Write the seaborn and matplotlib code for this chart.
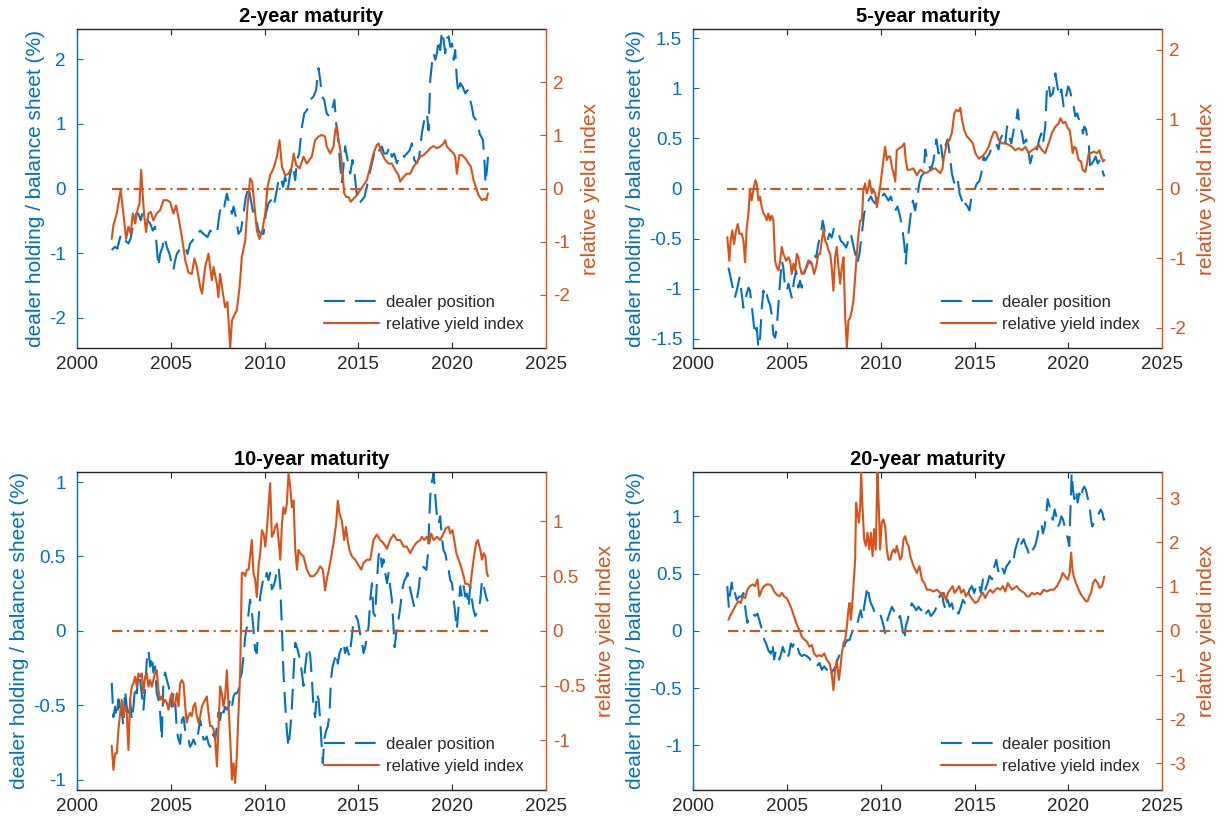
import pandas as pd
import seaborn as sns
import matplotlib
matplotlib.use("Agg")
import matplotlib.pyplot as plt
from matplotlib.ticker import FormatStrFormatter

# ---- 2-year maturity: (year, value) ----
m2_dealer = [
    (2001.85, -0.95), (2002.03, -0.90), (2002.15, -0.93), (2002.30, -0.75), (2002.44, -0.70), (2002.56, -0.80),
    (2002.74, -0.85), (2002.86, -0.77), (2003.01, -0.54), (2003.15, -0.39), (2003.27, -0.39), (2003.40, -0.49),
    (2003.51, -0.36), (2003.63, -0.39), (2003.75, -0.49), (2003.90, -0.54), (2004.04, -0.65), (2004.16, -0.59),
    (2004.25, -0.90), (2004.34, -1.21), (2004.43, -1.01), (2004.56, -0.90), (2004.66, -0.75), (2004.79, -0.90),
    (2004.93, -1.01), (2005.05, -1.16), (2005.14, -1.26), (2005.23, -1.11), (2005.32, -1.01), (2005.46, -0.95),
    (2005.59, -0.90), (2005.77, -0.90), (2005.89, -1.01), (2006.03, -0.85), (2006.17, -0.80), (2006.30, -0.70),
    (2006.44, -0.70), (2006.57, -0.65), (2006.74, -0.70), (2006.96, -0.75), (2007.10, -0.65), (2007.28, -0.70),
    (2007.46, -0.70), (2007.60, -0.39), (2007.72, -0.23), (2007.85, -0.28), (2007.99, -0.08), (2008.11, -0.23),
    (2008.26, -0.39), (2008.35, -0.28), (2008.47, -0.44), (2008.61, -0.70), (2008.74, -0.65), (2008.88, -0.39),
    (2009.00, -0.13), (2009.15, 0.03), (2009.27, -0.18), (2009.41, -0.39), (2009.56, -0.49), (2009.68, -0.65),
    (2009.80, -0.70), (2009.95, -0.70), (2010.07, -0.39), (2010.21, -0.23), (2010.34, -0.18), (2010.48, -0.28),
    (2010.62, -0.08), (2010.75, 0.13), (2010.87, 0.18), (2010.98, 0.03), (2011.10, 0.18), (2011.23, -0.03),
    (2011.37, 0.23), (2011.51, 0.36), (2011.64, 0.13), (2011.73, 0.44), (2011.85, 0.54), (2011.99, 0.95),
    (2012.12, 1.16), (2012.26, 1.21), (2012.43, 1.37), (2012.61, 1.42), (2012.75, 1.52), (2012.88, 1.86),
    (2012.97, 1.68), (2013.06, 1.42), (2013.18, 1.37), (2013.32, 1.16), (2013.47, 1.11), (2013.59, 1.21),
    (2013.73, 1.37), (2013.82, 1.01), (2013.95, 0.70), (2014.04, 0.34), (2014.12, 0.08), (2014.21, 0.34),
    (2014.30, 0.65), (2014.43, 0.44), (2014.57, 0.23), (2014.69, 0.44), (2014.80, 0.23), (2014.92, -0.08),
    (2015.05, -0.23), (2015.19, -0.18), (2015.33, -0.13), (2015.46, 0.03), (2015.60, 0.23), (2015.73, 0.39),
    (2015.85, 0.54), (2015.99, 0.49), (2016.12, 0.59), (2016.26, 0.65), (2016.38, 0.54), (2016.53, 0.54),
    (2016.67, 0.65), (2016.79, 0.49), (2016.92, 0.54), (2017.06, 0.39), (2017.18, 0.49), (2017.33, 0.54),
    (2017.45, 0.49), (2017.59, 0.54), (2017.74, 0.59), (2017.86, 0.70), (2017.99, 0.44), (2018.13, 0.39),
    (2018.25, 0.49), (2018.39, 0.85), (2018.52, 1.06), (2018.66, 1.16), (2018.75, 0.90), (2018.84, 1.68),
    (2018.93, 1.93), (2019.02, 2.09), (2019.11, 1.99), (2019.20, 2.09), (2019.28, 2.30), (2019.37, 2.14),
    (2019.46, 2.43), (2019.55, 2.30), (2019.64, 2.09), (2019.73, 2.32), (2019.82, 2.35), (2019.91, 2.19),
    (2020.00, 2.24), (2020.09, 1.99), (2020.17, 2.14), (2020.26, 1.68), (2020.35, 1.47), (2020.44, 1.63),
    (2020.57, 1.57), (2020.71, 1.47), (2020.83, 1.52), (2020.97, 1.37), (2021.06, 1.26), (2021.15, 1.11),
    (2021.28, 1.06), (2021.38, 1.01), (2021.47, 0.85), (2021.56, 0.80), (2021.65, 0.75), (2021.72, 0.49),
    (2021.79, 0.08), (2021.86, 0.28), (2021.92, 0.49),
]
m2_yield = [
    (2001.85, -0.95), (2001.94, -0.69), (2002.12, -0.47), (2002.26, -0.16), (2002.33, -0.03), (2002.47, -0.47),
    (2002.62, -0.95), (2002.74, -0.72), (2002.86, -0.85), (2002.97, -0.47), (2003.10, -0.66), (2003.22, -0.41),
    (2003.33, -0.28), (2003.42, 0.35), (2003.51, -0.16), (2003.59, -0.54), (2003.68, -0.82), (2003.81, -0.47),
    (2003.93, -0.44), (2004.07, -0.60), (2004.25, -0.47), (2004.43, -0.41), (2004.61, -0.22), (2004.79, -0.22),
    (2004.96, -0.25), (2005.14, -0.47), (2005.28, -0.32), (2005.41, -0.54), (2005.59, -0.91), (2005.77, -1.35),
    (2005.94, -1.58), (2006.12, -1.61), (2006.26, -1.32), (2006.39, -1.48), (2006.57, -1.86), (2006.67, -1.98),
    (2006.83, -1.48), (2007.01, -1.23), (2007.19, -1.73), (2007.28, -1.48), (2007.46, -1.80), (2007.54, -2.05),
    (2007.63, -1.61), (2007.78, -1.98), (2007.90, -2.24), (2008.02, -2.14), (2008.17, -3.00), (2008.26, -2.49),
    (2008.38, -2.39), (2008.52, -2.30), (2008.67, -1.86), (2008.79, -1.29), (2008.97, -0.98), (2009.09, -0.35),
    (2009.23, 0.19), (2009.34, 0.13), (2009.45, -0.28), (2009.59, -0.79), (2009.73, -0.95), (2009.88, -0.79),
    (2010.04, -0.47), (2010.16, 0.03), (2010.30, 0.25), (2010.48, 0.38), (2010.66, 0.60), (2010.80, 0.91),
    (2010.93, 0.41), (2011.10, 0.25), (2011.28, 0.28), (2011.46, 0.41), (2011.55, 0.66), (2011.69, 0.44),
    (2011.87, 0.38), (2012.08, 0.60), (2012.26, 0.47), (2012.52, 0.60), (2012.70, 0.91), (2012.88, 0.98),
    (2013.06, 1.01), (2013.23, 0.98), (2013.32, 0.79), (2013.50, 0.66), (2013.68, 0.79), (2013.77, 1.10),
    (2013.86, 1.17), (2013.95, 0.91), (2014.07, 0.66), (2014.18, 0.22), (2014.25, -0.09), (2014.36, -0.16),
    (2014.48, -0.16), (2014.60, -0.25), (2014.75, -0.19), (2014.92, -0.13), (2015.10, -0.03), (2015.28, 0.06),
    (2015.46, 0.16), (2015.64, 0.41), (2015.81, 0.66), (2015.99, 0.82), (2016.08, 0.85), (2016.26, 0.66),
    (2016.44, 0.54), (2016.62, 0.47), (2016.79, 0.47), (2016.97, 0.35), (2017.15, 0.25), (2017.24, 0.13),
    (2017.42, 0.22), (2017.59, 0.28), (2017.77, 0.28), (2017.95, 0.41), (2018.13, 0.50), (2018.31, 0.60),
    (2018.48, 0.63), (2018.66, 0.69), (2018.84, 0.76), (2019.02, 0.80), (2019.20, 0.76), (2019.37, 0.79),
    (2019.55, 0.85), (2019.64, 0.91), (2019.73, 0.79), (2019.91, 0.72), (2020.09, 0.66), (2020.17, 0.60),
    (2020.26, 0.28), (2020.39, 0.63), (2020.53, 0.63), (2020.71, 0.57), (2020.89, 0.47), (2021.01, 0.41),
    (2021.15, 0.16), (2021.30, 0.00), (2021.42, -0.13), (2021.60, -0.22), (2021.74, -0.19), (2021.83, -0.22),
    (2021.92, -0.09),
]

# ---- 5-year maturity ----
m5_dealer = [
    (2001.87, -0.79), (2001.99, -0.89), (2002.10, -0.99), (2002.22, -1.09), (2002.35, -0.99), (2002.46, -0.89),
    (2002.58, -1.05), (2002.67, -1.19), (2002.76, -1.12), (2002.85, -1.05), (2002.94, -0.99), (2003.02, -1.02),
    (2003.11, -1.16), (2003.20, -1.32), (2003.29, -1.46), (2003.38, -1.39), (2003.47, -1.59), (2003.56, -1.49),
    (2003.65, -1.19), (2003.74, -1.02), (2003.83, -1.09), (2003.91, -1.05), (2004.00, -1.12), (2004.09, -1.16),
    (2004.18, -1.26), (2004.27, -1.46), (2004.36, -1.49), (2004.45, -1.39), (2004.54, -1.16), (2004.63, -0.92),
    (2004.72, -0.72), (2004.80, -0.79), (2004.89, -0.99), (2004.98, -1.02), (2005.07, -0.95), (2005.16, -1.02),
    (2005.25, -1.09), (2005.37, -0.92), (2005.48, -0.82), (2005.60, -0.99), (2005.69, -0.92), (2005.78, -0.99),
    (2005.91, -0.85), (2006.01, -0.79), (2006.14, -0.72), (2006.26, -0.75), (2006.41, -0.65), (2006.55, -0.69),
    (2006.67, -0.55), (2006.80, -0.45), (2006.90, -0.32), (2007.03, -0.45), (2007.15, -0.52), (2007.26, -0.45),
    (2007.38, -0.49), (2007.51, -0.39), (2007.62, -0.42), (2007.74, -0.45), (2007.86, -0.52), (2008.01, -0.55),
    (2008.15, -0.59), (2008.27, -0.52), (2008.40, -0.45), (2008.51, -0.55), (2008.63, -0.65), (2008.75, -0.75),
    (2008.86, -0.65), (2008.99, -0.45), (2009.11, -0.25), (2009.22, -0.18), (2009.34, -0.12), (2009.47, -0.08),
    (2009.57, -0.12), (2009.70, -0.15), (2009.82, -0.08), (2009.93, -0.12), (2010.05, -0.08), (2010.18, -0.05),
    (2010.28, -0.08), (2010.41, -0.12), (2010.53, -0.08), (2010.64, -0.15), (2010.77, -0.22), (2010.89, -0.18),
    (2011.03, -0.28), (2011.16, -0.42), (2011.25, -0.55), (2011.33, -0.75), (2011.42, -0.52), (2011.51, -0.39),
    (2011.62, -0.22), (2011.71, -0.12), (2011.83, -0.22), (2011.92, -0.12), (2012.05, 0.05), (2012.15, 0.12),
    (2012.28, 0.15), (2012.37, 0.39), (2012.49, 0.28), (2012.67, 0.18), (2012.81, 0.28), (2012.96, 0.49),
    (2013.08, 0.35), (2013.20, 0.45), (2013.31, 0.28), (2013.43, 0.42), (2013.56, 0.49), (2013.67, 0.35),
    (2013.79, 0.15), (2013.88, 0.08), (2014.00, 0.02), (2014.11, 0.08), (2014.20, -0.05), (2014.33, -0.12),
    (2014.41, -0.08), (2014.50, -0.15), (2014.63, -0.18), (2014.73, -0.22), (2014.86, -0.05), (2014.98, -0.02),
    (2015.12, 0.05), (2015.25, 0.07), (2015.36, 0.15), (2015.48, 0.32), (2015.57, 0.28), (2015.70, 0.32),
    (2015.80, 0.35), (2015.93, 0.42), (2016.05, 0.42), (2016.16, 0.45), (2016.28, 0.39), (2016.37, 0.49),
    (2016.52, 0.55), (2016.64, 0.45), (2016.73, 0.62), (2016.85, 0.52), (2016.96, 0.45), (2017.09, 0.59),
    (2017.21, 0.65), (2017.30, 0.79), (2017.41, 0.62), (2017.53, 0.55), (2017.62, 0.45), (2017.76, 0.49),
    (2017.89, 0.35), (2017.97, 0.25), (2018.10, 0.35), (2018.22, 0.42), (2018.33, 0.39), (2018.45, 0.49),
    (2018.56, 0.55), (2018.65, 0.45), (2018.77, 0.62), (2018.86, 0.99), (2018.95, 1.05), (2019.04, 0.92),
    (2019.18, 0.95), (2019.31, 1.15), (2019.39, 1.05), (2019.52, 0.92), (2019.63, 0.99), (2019.75, 0.82),
    (2019.88, 0.92), (2019.99, 1.02), (2020.07, 0.99), (2020.20, 0.89), (2020.29, 0.82), (2020.37, 0.72),
    (2020.46, 0.75), (2020.55, 0.70), (2020.68, 0.65), (2020.78, 0.55), (2020.85, 0.62), (2020.94, 0.59),
    (2021.03, 0.49), (2021.10, 0.42), (2021.17, 0.18), (2021.26, 0.25), (2021.36, 0.28), (2021.46, 0.32),
    (2021.57, 0.25), (2021.67, 0.28), (2021.75, 0.25), (2021.86, 0.15), (2021.93, 0.12),
]
m5_yield = [
    (2001.81, -0.70), (2001.92, -1.04), (2001.99, -0.75), (2002.08, -0.60), (2002.17, -0.80), (2002.28, -0.60),
    (2002.37, -0.51), (2002.46, -0.65), (2002.58, -0.65), (2002.67, -0.75), (2002.76, -1.06), (2002.85, -0.55),
    (2002.94, -0.36), (2003.02, -0.02), (2003.11, -0.17), (2003.20, -0.02), (2003.31, 0.12), (2003.38, 0.07),
    (2003.47, -0.17), (2003.56, -0.12), (2003.65, -0.27), (2003.74, -0.36), (2003.83, -0.39), (2003.91, -0.46),
    (2004.00, -0.36), (2004.09, -0.46), (2004.18, -0.39), (2004.27, -0.46), (2004.36, -1.04), (2004.45, -1.13),
    (2004.54, -1.18), (2004.63, -1.04), (2004.72, -0.84), (2004.80, -0.94), (2004.95, -1.04), (2005.07, -0.99),
    (2005.16, -1.04), (2005.25, -1.23), (2005.34, -1.08), (2005.43, -1.18), (2005.52, -0.94), (2005.60, -0.99),
    (2005.69, -1.13), (2005.78, -1.23), (2005.96, -1.18), (2006.05, -1.13), (2006.17, -1.04), (2006.32, -1.08),
    (2006.44, -1.23), (2006.55, -1.13), (2006.67, -0.94), (2006.76, -0.94), (2006.85, -0.75), (2006.94, -0.60),
    (2007.03, -0.75), (2007.12, -0.80), (2007.21, -0.89), (2007.30, -0.94), (2007.38, -1.13), (2007.47, -1.47),
    (2007.56, -0.99), (2007.65, -0.84), (2007.74, -1.13), (2007.83, -1.37), (2007.92, -1.13), (2008.01, -0.99),
    (2008.10, -1.86), (2008.19, -2.29), (2008.27, -1.90), (2008.36, -1.86), (2008.45, -1.76), (2008.54, -1.61),
    (2008.63, -1.28), (2008.72, -0.94), (2008.81, -0.65), (2008.90, -0.46), (2008.99, -0.46), (2009.07, -0.02),
    (2009.16, 0.07), (2009.25, -0.07), (2009.34, 0.02), (2009.40, 0.12), (2009.52, -0.07), (2009.61, -0.02),
    (2009.70, -0.07), (2009.79, -0.27), (2009.88, -0.12), (2009.96, 0.02), (2010.05, 0.22), (2010.14, 0.41),
    (2010.23, 0.60), (2010.32, 0.41), (2010.41, 0.46), (2010.50, 0.46), (2010.59, 0.31), (2010.68, 0.22),
    (2010.77, 0.10), (2010.85, 0.55), (2010.98, 0.58), (2011.12, 0.60), (2011.25, 0.65), (2011.33, 0.41),
    (2011.42, 0.27), (2011.57, 0.27), (2011.74, 0.29), (2011.92, 0.19), (2012.10, 0.27), (2012.37, 0.22),
    (2012.54, 0.24), (2012.63, 0.27), (2012.90, 0.29), (2013.17, 0.22), (2013.29, 0.29), (2013.35, 0.43),
    (2013.52, 0.65), (2013.67, 0.70), (2013.79, 0.80), (2013.92, 1.08), (2014.02, 1.13), (2014.15, 1.11),
    (2014.24, 1.16), (2014.33, 0.99), (2014.45, 0.84), (2014.59, 0.75), (2014.77, 0.70), (2014.91, 0.65),
    (2015.04, 0.51), (2015.22, 0.43), (2015.39, 0.46), (2015.57, 0.51), (2015.75, 0.60), (2015.93, 0.75),
    (2016.05, 0.82), (2016.16, 0.80), (2016.28, 0.70), (2016.46, 0.65), (2016.64, 0.65), (2016.82, 0.63),
    (2017.00, 0.60), (2017.17, 0.55), (2017.35, 0.58), (2017.53, 0.55), (2017.71, 0.60), (2017.89, 0.51),
    (2018.06, 0.55), (2018.24, 0.58), (2018.42, 0.63), (2018.60, 0.55), (2018.77, 0.51), (2018.95, 0.65),
    (2019.13, 0.80), (2019.31, 0.89), (2019.49, 0.94), (2019.58, 1.01), (2019.72, 0.94), (2019.84, 0.96),
    (2019.97, 0.87), (2020.07, 0.84), (2020.15, 0.70), (2020.23, 0.51), (2020.32, 0.60), (2020.41, 0.58),
    (2020.55, 0.41), (2020.68, 0.39), (2020.77, 0.27), (2020.91, 0.24), (2021.00, 0.36), (2021.09, 0.51),
    (2021.21, 0.51), (2021.36, 0.53), (2021.53, 0.51), (2021.66, 0.55), (2021.75, 0.46), (2021.86, 0.39),
    (2021.93, 0.41),
]

# ---- 10-year maturity ----
m10_dealer = [
    (2001.85, -0.35), (2001.94, -0.58), (2002.03, -0.51), (2002.12, -0.58), (2002.21, -0.46), (2002.30, -0.58),
    (2002.38, -0.53), (2002.47, -0.64), (2002.56, -0.40), (2002.65, -0.51), (2002.74, -0.55), (2002.83, -0.46),
    (2002.92, -0.60), (2003.01, -0.51), (2003.10, -0.37), (2003.19, -0.42), (2003.27, -0.28), (2003.36, -0.33),
    (2003.45, -0.42), (2003.54, -0.53), (2003.63, -0.40), (2003.72, -0.20), (2003.81, -0.13), (2003.90, -0.24),
    (2003.99, -0.17), (2004.07, -0.28), (2004.16, -0.24), (2004.25, -0.42), (2004.34, -0.46), (2004.43, -0.55),
    (2004.52, -0.73), (2004.61, -0.33), (2004.70, -0.28), (2004.79, -0.33), (2004.88, -0.37), (2004.96, -0.42),
    (2005.05, -0.51), (2005.14, -0.42), (2005.23, -0.46), (2005.32, -0.67), (2005.41, -0.73), (2005.50, -0.76),
    (2005.59, -0.60), (2005.68, -0.58), (2005.77, -0.67), (2005.85, -0.69), (2005.94, -0.73), (2006.03, -0.78),
    (2006.12, -0.76), (2006.21, -0.73), (2006.30, -0.76), (2006.39, -0.76), (2006.48, -0.67), (2006.57, -0.60),
    (2006.66, -0.67), (2006.74, -0.73), (2006.83, -0.73), (2006.92, -0.71), (2007.01, -0.76), (2007.10, -0.78),
    (2007.19, -0.76), (2007.28, -0.69), (2007.37, -0.73), (2007.46, -0.64), (2007.54, -0.55), (2007.63, -0.60),
    (2007.72, -0.51), (2007.81, -0.55), (2007.90, -0.51), (2007.99, -0.53), (2008.08, -0.51), (2008.17, -0.46),
    (2008.26, -0.51), (2008.35, -0.44), (2008.43, -0.42), (2008.52, -0.42), (2008.61, -0.40), (2008.70, -0.33),
    (2008.79, -0.28), (2008.88, -0.17), (2008.97, -0.04), (2009.06, 0.03), (2009.15, 0.12), (2009.23, 0.21),
    (2009.32, 0.14), (2009.41, 0.01), (2009.50, -0.13), (2009.59, -0.15), (2009.68, 0.07), (2009.77, 0.23),
    (2009.86, 0.30), (2009.95, 0.36), (2010.04, 0.34), (2010.12, 0.39), (2010.21, 0.34), (2010.30, 0.39),
    (2010.39, 0.28), (2010.48, 0.30), (2010.57, 0.34), (2010.66, 0.41), (2010.75, 0.43), (2010.84, 0.30),
    (2010.93, 0.01), (2011.01, -0.28), (2011.10, -0.49), (2011.19, -0.67), (2011.28, -0.78), (2011.37, -0.67),
    (2011.46, -0.51), (2011.55, -0.28), (2011.64, -0.08), (2011.73, -0.11), (2011.81, -0.15), (2011.90, -0.20),
    (2011.99, -0.28), (2012.08, -0.37), (2012.17, -0.24), (2012.26, -0.15), (2012.35, -0.11), (2012.44, -0.17),
    (2012.53, -0.33), (2012.62, -0.53), (2012.70, -0.58), (2012.79, -0.42), (2012.88, -0.46), (2012.97, -0.60),
    (2013.06, -0.80), (2013.11, -0.89), (2013.18, -0.73), (2013.29, -0.67), (2013.38, -0.64), (2013.47, -0.55),
    (2013.54, -0.33), (2013.63, -0.24), (2013.72, -0.20), (2013.82, -0.15), (2013.91, -0.22), (2014.00, -0.15),
    (2014.12, -0.11), (2014.21, -0.08), (2014.30, -0.15), (2014.39, -0.11), (2014.53, -0.17), (2014.66, -0.04),
    (2014.75, 0.07), (2014.87, 0.10), (2014.98, 0.07), (2015.10, -0.02), (2015.19, -0.06), (2015.28, -0.15),
    (2015.37, -0.11), (2015.46, -0.04), (2015.55, 0.03), (2015.64, 0.21), (2015.73, 0.32), (2015.81, 0.12),
    (2015.90, 0.10), (2015.99, 0.32), (2016.08, 0.50), (2016.17, 0.54), (2016.26, 0.43), (2016.35, 0.48),
    (2016.44, 0.39), (2016.53, 0.32), (2016.62, 0.39), (2016.70, 0.30), (2016.79, 0.21), (2016.88, 0.03),
    (2016.94, -0.11), (2017.02, -0.02), (2017.11, 0.05), (2017.20, 0.12), (2017.29, 0.21), (2017.38, 0.30),
    (2017.47, 0.34), (2017.56, 0.36), (2017.63, 0.39), (2017.74, 0.30), (2017.86, 0.23), (2017.99, 0.16),
    (2018.09, 0.19), (2018.22, 0.28), (2018.31, 0.39), (2018.39, 0.41), (2018.48, 0.43), (2018.63, 0.41),
    (2018.72, 0.52), (2018.80, 0.79), (2018.87, 0.97), (2018.96, 1.02), (2019.02, 1.06), (2019.11, 0.90),
    (2019.20, 0.77), (2019.28, 0.72), (2019.37, 0.77), (2019.46, 0.63), (2019.55, 0.54), (2019.64, 0.52),
    (2019.73, 0.46), (2019.82, 0.41), (2019.91, 0.34), (2020.00, 0.32), (2020.09, 0.21), (2020.17, 0.12),
    (2020.26, 0.01), (2020.35, 0.16), (2020.44, 0.30), (2020.53, 0.23), (2020.62, 0.30), (2020.71, 0.23),
    (2020.80, 0.25), (2020.89, 0.16), (2020.97, 0.30), (2021.06, 0.21), (2021.15, 0.14), (2021.24, 0.10),
    (2021.33, 0.12), (2021.42, 0.14), (2021.51, 0.21), (2021.60, 0.34), (2021.69, 0.30), (2021.78, 0.25),
    (2021.86, 0.21), (2021.92, 0.20),
]
m10_yield = [
    (2001.85, -1.05), (2001.94, -1.27), (2002.03, -1.12), (2002.12, -1.12), (2002.21, -0.90), (2002.30, -0.75),
    (2002.38, -0.63), (2002.47, -0.78), (2002.56, -0.69), (2002.65, -0.75), (2002.74, -1.09), (2002.83, -0.63),
    (2002.92, -0.51), (2003.01, -0.48), (2003.10, -0.42), (2003.19, -0.51), (2003.27, -0.39), (2003.36, -0.42),
    (2003.45, -0.39), (2003.54, -0.57), (2003.63, -0.42), (2003.72, -0.39), (2003.81, -0.51), (2003.90, -0.45),
    (2003.99, -0.51), (2004.07, -0.45), (2004.16, -0.39), (2004.25, -0.36), (2004.34, -0.54), (2004.43, -0.63),
    (2004.52, -0.60), (2004.61, -0.66), (2004.70, -0.63), (2004.79, -0.66), (2004.88, -0.72), (2004.96, -0.63),
    (2005.05, -0.57), (2005.14, -0.69), (2005.23, -0.66), (2005.32, -0.57), (2005.41, -0.69), (2005.50, -0.48),
    (2005.59, -0.45), (2005.68, -0.48), (2005.77, -0.69), (2005.85, -0.84), (2005.94, -0.78), (2006.03, -0.75),
    (2006.12, -0.78), (2006.21, -0.69), (2006.30, -0.66), (2006.39, -0.78), (2006.48, -0.84), (2006.57, -0.78),
    (2006.66, -0.69), (2006.74, -0.66), (2006.83, -0.63), (2006.92, -0.60), (2007.01, -0.75), (2007.10, -0.87),
    (2007.19, -0.87), (2007.28, -0.90), (2007.37, -0.99), (2007.46, -1.24), (2007.54, -0.90), (2007.63, -0.51),
    (2007.72, -0.57), (2007.81, -0.69), (2007.90, -0.60), (2007.99, -0.36), (2008.08, -0.69), (2008.17, -0.99),
    (2008.26, -1.36), (2008.35, -1.21), (2008.43, -1.39), (2008.52, -1.15), (2008.61, -0.75), (2008.70, -0.39),
    (2008.79, 0.53), (2008.88, 0.53), (2008.97, 0.50), (2009.06, 0.56), (2009.15, 0.56), (2009.23, 0.68),
    (2009.32, 0.83), (2009.41, 0.53), (2009.50, 0.47), (2009.59, 0.31), (2009.68, 0.59), (2009.77, 0.71),
    (2009.86, 0.92), (2009.95, 0.89), (2010.04, 0.77), (2010.12, 0.92), (2010.21, 1.13), (2010.30, 1.35),
    (2010.39, 0.86), (2010.48, 0.89), (2010.57, 0.95), (2010.66, 0.98), (2010.75, 0.83), (2010.84, 0.65),
    (2010.93, 0.98), (2011.01, 1.13), (2011.10, 1.07), (2011.19, 1.16), (2011.28, 1.44), (2011.37, 1.32),
    (2011.46, 1.13), (2011.55, 1.19), (2011.64, 0.74), (2011.73, 0.56), (2011.81, 0.74), (2011.90, 0.71),
    (2012.08, 0.68), (2012.26, 0.56), (2012.43, 0.50), (2012.61, 0.50), (2012.79, 0.53), (2012.97, 0.59),
    (2013.11, 0.56), (2013.23, 0.37), (2013.32, 0.47), (2013.50, 0.62), (2013.68, 0.80), (2013.82, 0.98),
    (2013.91, 1.19), (2014.00, 1.07), (2014.12, 1.01), (2014.25, 0.83), (2014.34, 0.95), (2014.43, 0.83),
    (2014.53, 0.74), (2014.66, 0.68), (2014.84, 0.65), (2015.01, 0.60), (2015.16, 0.56), (2015.28, 0.62),
    (2015.46, 0.65), (2015.64, 0.65), (2015.81, 0.83), (2015.99, 0.88), (2016.17, 0.83), (2016.35, 0.80),
    (2016.53, 0.75), (2016.70, 0.83), (2016.88, 0.88), (2017.06, 0.83), (2017.24, 0.83), (2017.42, 0.77),
    (2017.59, 0.77), (2017.77, 0.71), (2017.95, 0.77), (2018.13, 0.81), (2018.31, 0.83), (2018.39, 0.86),
    (2018.52, 0.83), (2018.66, 0.86), (2018.79, 0.80), (2018.89, 0.89), (2019.02, 0.83), (2019.20, 0.86),
    (2019.37, 0.83), (2019.55, 0.89), (2019.68, 0.94), (2019.82, 0.95), (2019.91, 0.89), (2020.03, 0.92),
    (2020.12, 0.83), (2020.23, 0.71), (2020.35, 0.65), (2020.48, 0.59), (2020.62, 0.50), (2020.71, 0.43),
    (2020.83, 0.43), (2020.97, 0.40), (2021.06, 0.53), (2021.15, 0.65), (2021.28, 0.80), (2021.38, 0.83),
    (2021.51, 0.74), (2021.60, 0.65), (2021.69, 0.71), (2021.78, 0.68), (2021.86, 0.53), (2021.92, 0.50),
]

# ---- 20-year maturity ----
m20_dealer = [
    (2001.81, 0.39), (2001.89, 0.21), (2001.96, 0.33), (2002.05, 0.42), (2002.14, 0.30), (2002.22, 0.33),
    (2002.31, 0.27), (2002.46, 0.30), (2002.58, 0.30), (2002.67, 0.33), (2002.81, 0.15), (2002.88, 0.07),
    (2003.02, 0.15), (2003.17, 0.15), (2003.29, 0.13), (2003.42, 0.15), (2003.56, 0.07), (2003.70, -0.02),
    (2003.79, -0.08), (2003.88, -0.11), (2004.00, -0.17), (2004.13, -0.20), (2004.22, -0.11), (2004.31, -0.25),
    (2004.40, -0.17), (2004.50, -0.22), (2004.59, -0.25), (2004.68, -0.20), (2004.77, -0.14), (2004.89, -0.20),
    (2004.98, -0.25), (2005.11, -0.20), (2005.20, -0.11), (2005.30, -0.14), (2005.43, -0.09), (2005.55, -0.14),
    (2005.66, -0.20), (2005.78, -0.22), (2005.91, -0.21), (2006.05, -0.22), (2006.19, -0.24), (2006.32, -0.28),
    (2006.44, -0.31), (2006.58, -0.31), (2006.73, -0.28), (2006.85, -0.34), (2006.98, -0.31), (2007.12, -0.34),
    (2007.24, -0.31), (2007.35, -0.37), (2007.47, -0.34), (2007.60, -0.31), (2007.70, -0.25), (2007.83, -0.20),
    (2007.95, -0.20), (2008.10, -0.11), (2008.22, -0.08), (2008.33, -0.08), (2008.45, -0.02), (2008.58, 0.04),
    (2008.72, 0.04), (2008.84, 0.13), (2008.93, 0.18), (2009.02, 0.10), (2009.11, 0.21), (2009.20, 0.30),
    (2009.29, 0.39), (2009.38, 0.30), (2009.47, 0.24), (2009.56, 0.21), (2009.70, 0.15), (2009.82, 0.13),
    (2009.96, 0.15), (2010.11, 0.07), (2010.23, -0.02), (2010.36, 0.10), (2010.46, 0.15), (2010.59, 0.21),
    (2010.68, 0.18), (2010.80, 0.15), (2010.89, 0.10), (2011.03, 0.13), (2011.16, 0.01), (2011.25, -0.08),
    (2011.33, 0.04), (2011.44, 0.10), (2011.53, 0.18), (2011.65, 0.24), (2011.78, 0.21), (2011.89, 0.18),
    (2012.01, 0.21), (2012.14, 0.18), (2012.28, 0.21), (2012.40, 0.15), (2012.54, 0.18), (2012.67, 0.13),
    (2012.78, 0.15), (2012.90, 0.18), (2013.03, 0.24), (2013.13, 0.30), (2013.26, 0.33), (2013.35, 0.24),
    (2013.47, 0.18), (2013.56, 0.27), (2013.67, 0.21), (2013.79, 0.24), (2013.91, 0.15), (2014.02, 0.18),
    (2014.15, 0.15), (2014.27, 0.21), (2014.38, 0.27), (2014.50, 0.24), (2014.63, 0.30), (2014.73, 0.36),
    (2014.86, 0.39), (2014.98, 0.33), (2015.09, 0.39), (2015.22, 0.42), (2015.34, 0.33), (2015.45, 0.45),
    (2015.57, 0.36), (2015.70, 0.42), (2015.80, 0.48), (2015.93, 0.45), (2016.05, 0.56), (2016.16, 0.62),
    (2016.25, 0.53), (2016.34, 0.50), (2016.46, 0.56), (2016.59, 0.50), (2016.69, 0.56), (2016.82, 0.59),
    (2016.94, 0.62), (2017.05, 0.59), (2017.17, 0.71), (2017.26, 0.76), (2017.39, 0.83), (2017.49, 0.76),
    (2017.62, 0.80), (2017.74, 0.74), (2017.83, 0.71), (2017.93, 0.65), (2018.01, 0.68), (2018.11, 0.71),
    (2018.23, 0.74), (2018.36, 0.83), (2018.45, 0.91), (2018.56, 0.94), (2018.65, 0.85), (2018.74, 0.91),
    (2018.83, 1.03), (2018.90, 1.15), (2019.00, 1.09), (2019.09, 1.00), (2019.18, 0.97), (2019.27, 1.06),
    (2019.36, 1.00), (2019.45, 0.91), (2019.54, 0.94), (2019.63, 1.00), (2019.72, 0.97), (2019.81, 0.91),
    (2019.90, 0.85), (2019.98, 0.80), (2020.05, 0.74), (2020.11, 1.03), (2020.18, 1.38), (2020.25, 1.23),
    (2020.32, 1.15), (2020.41, 1.23), (2020.50, 1.12), (2020.59, 1.20), (2020.67, 1.15), (2020.76, 1.23),
    (2020.85, 1.26), (2020.94, 1.23), (2021.05, 1.15), (2021.14, 1.09), (2021.21, 0.97), (2021.28, 0.91),
    (2021.36, 0.94), (2021.44, 0.97), (2021.53, 1.00), (2021.64, 1.03), (2021.73, 1.06), (2021.82, 1.03),
    (2021.89, 0.97), (2021.94, 0.98),
]
m20_yield = [
    (2001.87, 0.25), (2001.99, 0.36), (2002.14, 0.48), (2002.28, 0.59), (2002.40, 0.67), (2002.53, 0.63),
    (2002.63, 0.78), (2002.76, 0.74), (2002.88, 0.93), (2003.02, 1.01), (2003.17, 1.05), (2003.29, 1.01),
    (2003.42, 1.16), (2003.52, 0.78), (2003.65, 0.93), (2003.77, 1.01), (2003.91, 1.05), (2004.06, 1.05),
    (2004.18, 1.01), (2004.31, 0.89), (2004.45, 0.82), (2004.59, 0.78), (2004.72, 0.86), (2004.84, 0.78),
    (2004.98, 0.74), (2005.11, 0.63), (2005.25, 0.48), (2005.37, 0.33), (2005.52, 0.14), (2005.66, 0.02),
    (2005.78, -0.13), (2005.93, -0.20), (2006.05, -0.24), (2006.19, -0.36), (2006.32, -0.32), (2006.44, -0.51),
    (2006.58, -0.58), (2006.73, -0.55), (2006.85, -0.58), (2006.98, -0.51), (2007.12, -0.66), (2007.26, -0.73),
    (2007.38, -0.96), (2007.47, -1.34), (2007.56, -0.89), (2007.65, -0.66), (2007.76, -1.11), (2007.83, -0.89),
    (2007.92, -0.51), (2008.01, -0.28), (2008.10, -0.20), (2008.19, 0.10), (2008.27, 0.48), (2008.33, 0.63),
    (2008.40, 0.25), (2008.47, 0.55), (2008.54, 1.01), (2008.63, 1.61), (2008.68, 2.90), (2008.75, 2.67),
    (2008.83, 2.45), (2008.90, 2.83), (2008.95, 3.58), (2009.02, 2.83), (2009.11, 2.07), (2009.20, 1.92),
    (2009.29, 2.22), (2009.38, 1.84), (2009.47, 2.22), (2009.56, 1.69), (2009.64, 2.30), (2009.73, 1.84),
    (2009.82, 3.58), (2009.89, 2.83), (2009.96, 1.84), (2010.05, 2.45), (2010.14, 2.52), (2010.23, 2.37),
    (2010.32, 1.84), (2010.41, 1.61), (2010.50, 1.61), (2010.59, 1.77), (2010.68, 1.84), (2010.77, 1.77),
    (2010.85, 1.92), (2010.94, 1.77), (2011.03, 1.61), (2011.12, 1.69), (2011.21, 2.07), (2011.30, 2.14),
    (2011.39, 1.99), (2011.48, 1.92), (2011.57, 1.69), (2011.75, 1.46), (2011.92, 1.31), (2012.06, 1.46),
    (2012.19, 1.16), (2012.32, 1.08), (2012.46, 0.93), (2012.63, 0.93), (2012.81, 0.89), (2012.99, 0.93),
    (2013.17, 0.86), (2013.26, 0.78), (2013.35, 0.86), (2013.47, 0.70), (2013.58, 0.86), (2013.70, 0.93),
    (2013.83, 1.01), (2013.93, 0.86), (2014.06, 0.93), (2014.18, 1.01), (2014.29, 0.86), (2014.42, 0.93),
    (2014.54, 0.78), (2014.65, 0.86), (2014.77, 0.78), (2014.90, 0.70), (2015.04, 0.63), (2015.18, 0.67),
    (2015.30, 0.78), (2015.45, 0.86), (2015.57, 0.74), (2015.70, 0.86), (2015.84, 0.93), (2015.98, 0.86),
    (2016.11, 0.93), (2016.23, 0.97), (2016.37, 0.93), (2016.51, 1.01), (2016.64, 0.89), (2016.77, 1.08),
    (2016.87, 1.01), (2017.00, 0.93), (2017.12, 0.97), (2017.26, 1.01), (2017.39, 0.93), (2017.53, 0.89),
    (2017.65, 0.86), (2017.79, 0.78), (2017.92, 0.78), (2018.06, 0.86), (2018.19, 0.82), (2018.33, 0.86),
    (2018.51, 0.82), (2018.69, 0.93), (2018.86, 0.89), (2019.04, 0.93), (2019.22, 0.93), (2019.40, 1.01),
    (2019.58, 1.16), (2019.70, 1.31), (2019.84, 1.23), (2019.97, 1.16), (2020.07, 1.31), (2020.15, 1.77),
    (2020.22, 1.39), (2020.29, 1.23), (2020.41, 1.08), (2020.55, 0.93), (2020.68, 0.82), (2020.82, 0.74),
    (2020.94, 0.67), (2021.03, 0.67), (2021.12, 0.78), (2021.21, 0.86), (2021.32, 1.08), (2021.44, 1.16),
    (2021.57, 1.08), (2021.67, 0.97), (2021.80, 1.01), (2021.92, 1.23),
]

titles = ["2-year maturity", "5-year maturity", "10-year maturity", "20-year maturity"]

BLUE = "#0072BD"
ORANGE = "#D95319"
DARK = "#262626"

sns.set_style("white")
plt.rcParams['font.family'] = ['Liberation Sans', 'DejaVu Sans']
plt.rcParams['axes.unicode_minus'] = False


def plot_panel(fig, rect, title, dealer_pts, yield_pts, left_lim, right_lim, left_ticks, right_ticks):
    ax1 = fig.add_axes(rect)
    ax2 = ax1.twinx()
    dealer_df = pd.DataFrame(dealer_pts, columns=["year", "value"])
    yield_df = pd.DataFrame(yield_pts, columns=["year", "value"])

    sns.lineplot(data=dealer_df, x="year", y="value", ax=ax1, color=BLUE, linewidth=1.5,
                 linestyle=(0, (10, 4.8)), label="dealer position", legend=False,
                 sort=False, estimator=None)
    sns.lineplot(data=yield_df, x="year", y="value", ax=ax2, color=ORANGE, linewidth=1.5,
                 label="relative yield index", legend=False, sort=False, estimator=None)
    # zero reference over the sample period
    ax2.hlines(0, yield_df["year"].iloc[0], yield_df["year"].iloc[-1], color=ORANGE,
               linewidth=1.5, linestyles=[(0, (5, 2.2, 1, 2.2))])

    ax1.set_xlim(2000, 2025)
    ax1.set_xticks(range(2000, 2026, 5))
    ax1.set_ylim(-left_lim, left_lim)
    ax2.set_ylim(-right_lim, right_lim)
    ax1.set_yticks(left_ticks)
    ax2.set_yticks(right_ticks)
    ax1.yaxis.set_major_formatter(FormatStrFormatter('%g'))
    ax2.yaxis.set_major_formatter(FormatStrFormatter('%g'))

    ax1.set_xlabel("")
    ax1.set_ylabel("dealer holding / balance sheet (%)", color=BLUE, fontsize=15, labelpad=3)
    ax2.set_ylabel("relative yield index", color=ORANGE, fontsize=15, labelpad=8)
    ax1.set_title(title, fontsize=14.5, fontweight="bold", pad=5, color="black")

    for side in ["top", "bottom"]:
        ax1.spines[side].set_color(DARK)
        ax1.spines[side].set_linewidth(1.0)
        ax2.spines[side].set_visible(False)
    ax1.spines["left"].set_color(BLUE)
    ax1.spines["left"].set_linewidth(1.0)
    ax1.spines["right"].set_visible(False)
    ax2.spines["left"].set_visible(False)
    ax2.spines["right"].set_color(ORANGE)
    ax2.spines["right"].set_linewidth(1.0)

    ax1.tick_params(axis="x", direction="in", bottom=True, top=True, length=4, width=0.8,
                    colors=DARK, labelsize=13.5, pad=6)
    ax1.tick_params(axis="y", direction="in", left=True, right=False, length=4, width=0.8,
                    colors=BLUE, labelsize=13.5, pad=8)
    ax2.tick_params(axis="y", direction="in", right=True, left=False, length=4, width=0.8,
                    colors=ORANGE, labelsize=13.5, pad=5)

    h1, l1 = ax1.get_legend_handles_labels()
    h2, l2 = ax2.get_legend_handles_labels()
    ax2.legend(h1 + h2, l1 + l2, loc="lower right", bbox_to_anchor=(0.953, 0.05),
               frameon=False, fontsize=12, handlelength=3.3, handletextpad=0.4,
               labelspacing=0.43, borderpad=0, borderaxespad=0)
    return ax1, ax2


fig = plt.figure(figsize=(12.25, 8.22), dpi=100)
top_b, bot_b, h = 0.577, 0.0389, 0.3873
left_l, right_l, w = 0.0629, 0.566, 0.3826

plot_panel(fig, [left_l, top_b, w, h], titles[0], m2_dealer, m2_yield,
           2.46, 3.0, [-2, -1, 0, 1, 2], [-2, -1, 0, 1, 2])
plot_panel(fig, [right_l, top_b, w, h], titles[1], m5_dealer, m5_yield,
           1.59, 2.29, [-1.5, -1, -0.5, 0, 0.5, 1, 1.5], [-2, -1, 0, 1, 2])
plot_panel(fig, [left_l, bot_b, w, h], titles[2], m10_dealer, m10_yield,
           1.07, 1.455, [-1, -0.5, 0, 0.5, 1], [-1, -0.5, 0, 0.5, 1])
plot_panel(fig, [right_l, bot_b, w, h], titles[3], m20_dealer, m20_yield,
           1.39, 3.6, [-1, -0.5, 0, 0.5, 1], [-3, -2, -1, 0, 1, 2, 3])

fig.savefig("out.png", dpi=100)
